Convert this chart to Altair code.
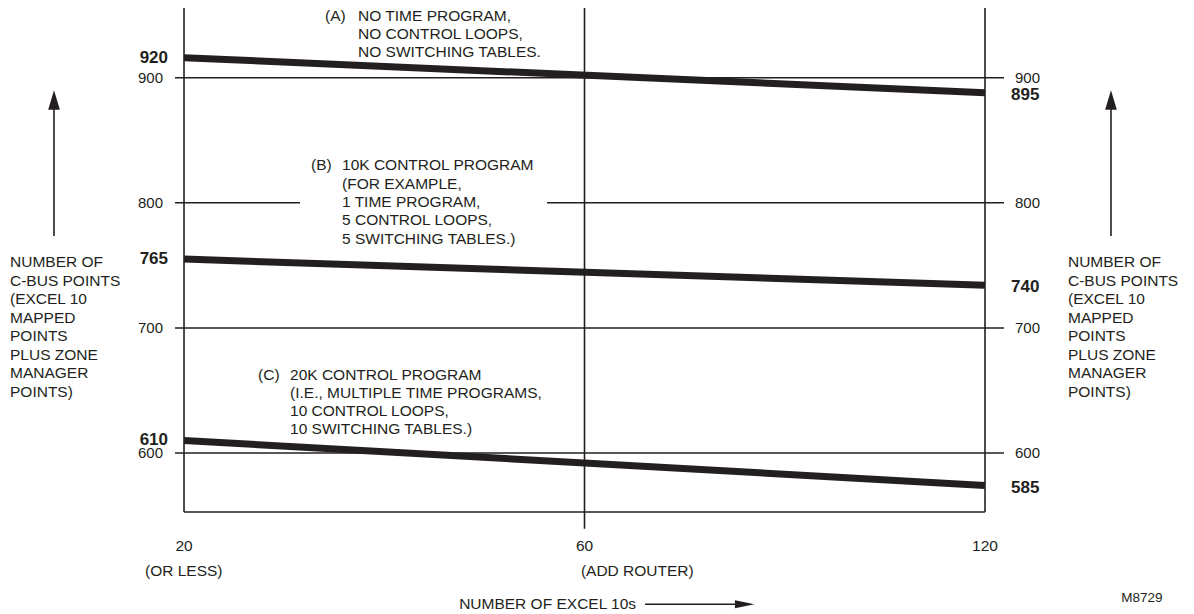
import altair as alt
import pandas as pd

INK = "#231f20"
FONT = "Liberation Sans"

# ---------------- data ----------------
excel_counts = [20, 60, 120]
excel_tick_labels = ["20", "60", "120"]
excel_sub_labels = ["(OR LESS)", "(ADD ROUTER)"]
series_ids = ["A", "B", "C"]
start_values = [916, 755, 610]   # line heights at 20 Excel 10s
end_values = [888, 734, 574]     # line heights at 120 Excel 10s
start_labels = ["920", "765", "610"]
end_labels = ["895", "740", "585"]
grid_values = [600, 700, 800, 900]
series_tags = ["(A)", "(B)", "(C)"]
series_notes = [
    "NO TIME PROGRAM,\nNO CONTROL LOOPS,\nNO SWITCHING TABLES.",
    "10K CONTROL PROGRAM\n(FOR EXAMPLE,\n1 TIME PROGRAM,\n5 CONTROL LOOPS,\n5 SWITCHING TABLES.)",
    "20K CONTROL PROGRAM\n(I.E., MULTIPLE TIME PROGRAMS,\n10 CONTROL LOOPS,\n10 SWITCHING TABLES.)",
]
y_title_lines = ["NUMBER OF", "C-BUS POINTS", "(EXCEL 10", "MAPPED", "POINTS",
                 "PLUS ZONE", "MANAGER", "POINTS)"]
x_title = "NUMBER OF EXCEL 10s"
figure_code = "M8729"

# ---------------- layout ----------------
W, H = 1178, 604
X_DOM = [-0.4395, 2.5019]   # slot units: 0 -> 20, 1 -> 60, 2 -> 120
Y_DOM = [472.9, 955.7]
xs = alt.Scale(domain=X_DOM, nice=False, zero=False)
ys = alt.Scale(domain=Y_DOM, nice=False, zero=False)
SLOT = "indexof([20, 60, 120], datum.n)"

FRAME_TOP = 956
FRAME_BOTTOM = 552.8
MID_BOTTOM = 539.5
GRID_X0, GRID_X1 = -0.0225, 2.0474
GAP_800 = (0.2896, 0.9064)
FS = 15.5


def X(f):
    return alt.X(f, scale=xs, axis=None)


def Y(f):
    return alt.Y(f, scale=ys, axis=None)


# gridlines
grid_rows = []
for v in grid_values:
    if v == 800:
        grid_rows.append({"x": GRID_X0, "x2": GAP_800[0], "v": v})
        grid_rows.append({"x": GAP_800[1], "x2": GRID_X1, "v": v})
    else:
        grid_rows.append({"x": GRID_X0, "x2": GRID_X1, "v": v})
grid = alt.Chart(pd.DataFrame(grid_rows)).mark_rule(color=INK, strokeWidth=1.5).encode(
    x=X("x:Q"), x2="x2:Q", y=Y("v:Q"))

# frame verticals
frame_df = pd.DataFrame({"n": excel_counts, "top": [FRAME_TOP] * 3,
                         "bot": [FRAME_BOTTOM, MID_BOTTOM, FRAME_BOTTOM]})
frame = alt.Chart(frame_df).transform_calculate(slot=SLOT).mark_rule(
    color=INK, strokeWidth=1.6).encode(x=X("slot:Q"), y=Y("top:Q"), y2="bot:Q")

base_df = pd.DataFrame({"x": [0.0], "x2": [2.0], "v": [FRAME_BOTTOM]})
base = alt.Chart(base_df).mark_rule(color=INK, strokeWidth=1.6).encode(
    x=X("x:Q"), x2="x2:Q", y=Y("v:Q"))

# data lines
lines_df = pd.DataFrame({"series": series_ids * 2,
                         "n": [excel_counts[0]] * 3 + [excel_counts[-1]] * 3,
                         "v": start_values + end_values})
lines = alt.Chart(lines_df).transform_calculate(slot=SLOT).mark_line(
    color=INK, strokeWidth=7, strokeCap="butt").encode(
    x=X("slot:Q"), y=Y("v:Q"), detail="series:N")

# tick labels
txt = dict(font=FONT, color=INK)
gl_left = alt.Chart(pd.DataFrame({"v": grid_values, "t": [str(g) for g in grid_values],
                                  "x": [-0.0524] * 4})).mark_text(
    align="right", baseline="middle", fontSize=15, **txt).encode(x=X("x:Q"), y=Y("v:Q"), text="t:N")
gl_right = alt.Chart(pd.DataFrame({"v": grid_values, "t": [str(g) for g in grid_values],
                                   "x": [2.0749] * 4})).mark_text(
    align="left", baseline="middle", fontSize=15, **txt).encode(x=X("x:Q"), y=Y("v:Q"), text="t:N")

bl_left = alt.Chart(pd.DataFrame({"v": start_values, "t": start_labels,
                                  "x": [-0.0399] * 3})).mark_text(
    align="right", baseline="middle", fontSize=17, fontWeight="bold", **txt).encode(
    x=X("x:Q"), y=Y("v:Q"), text="t:N")
bl_right = alt.Chart(pd.DataFrame({"v": end_values, "t": end_labels,
                                   "x": [2.065] * 3})).mark_text(
    align="left", baseline="middle", fontSize=17, fontWeight="bold", dy=2, **txt).encode(
    x=X("x:Q"), y=Y("v:Q"), text="t:N")

# x labels
xl = alt.Chart(pd.DataFrame({"n": excel_counts, "t": excel_tick_labels,
                             "v": [525.7] * 3})).transform_calculate(slot=SLOT).mark_text(
    align="center", baseline="middle", fontSize=FS, **txt).encode(
    x=X("slot:Q"), y=Y("v:Q"), text="t:N")
xsub = alt.Chart(pd.DataFrame({"t": excel_sub_labels, "x": [-0.0974, 0.991],
                               "v": [505.7] * 2})).mark_text(
    align="left", baseline="middle", fontSize=FS, **txt).encode(
    x=X("x:Q"), y=Y("v:Q"), text="t:N")

# series annotations
ann_y = [955.2, 835.4, 668.3]
tags = alt.Chart(pd.DataFrame({"t": series_tags, "x": [0.352, 0.317, 0.185],
                               "v": ann_y})).mark_text(
    align="left", baseline="top", fontSize=FS, **txt).encode(
    x=X("x:Q"), y=Y("v:Q"), text="t:N")
notes = alt.Chart(pd.DataFrame({"t": series_notes, "x": [0.4345, 0.3945, 0.2647],
                                "v": ann_y})).mark_text(
    align="left", baseline="top", fontSize=FS, lineBreak="\n", lineHeight=18.3, **txt).encode(
    x=X("x:Q"), y=Y("v:Q"), text="t:N")

# side titles
side = alt.Chart(pd.DataFrame({"t": ["\n".join(y_title_lines)] * 2,
                               "x": [-0.4395 + 0.0050, 2.2072], "v": [757.9] * 2})).mark_text(
    align="left", baseline="top", fontSize=FS, lineBreak="\n", lineHeight=18.5, **txt).encode(
    x=X("x:Q"), y=Y("v:Q"), text="t:N")

# up arrows
up_df = pd.DataFrame({"x": [-0.3246, 2.3146], "v": [773.5] * 2, "v2": [882.2] * 2})
up_shaft = alt.Chart(up_df).mark_rule(color=INK, strokeWidth=1.6).encode(
    x=X("x:Q"), y=Y("v:Q"), y2="v2:Q")
up_head = alt.Chart(up_df).mark_point(
    shape="M0,-1L0.6,1L-0.6,1Z", filled=True, size=380, color=INK, opacity=1).encode(
    x=X("x:Q"), y=Y("v2:Q"))

# x title with arrow
xt = alt.Chart(pd.DataFrame({"t": [x_title], "x": [1.1286], "v": [479.1]})).mark_text(
    align="right", baseline="middle", fontSize=FS, **txt).encode(
    x=X("x:Q"), y=Y("v:Q"), text="t:N")
ra_df = pd.DataFrame({"x": [1.151], "x2": [1.4], "h": [1.4], "v": [479.1]})
ra_shaft = alt.Chart(ra_df).mark_rule(color=INK, strokeWidth=1.6).encode(
    x=X("x:Q"), x2="x2:Q", y=Y("v:Q"))
ra_head = alt.Chart(ra_df).mark_point(
    shape="M1,0L-1,0.4L-1,-0.4Z", filled=True, size=380, color=INK, opacity=1).encode(
    x=X("h:Q"), y=Y("v:Q"))

code = alt.Chart(pd.DataFrame({"t": [figure_code], "x": [2.392], "v": [484.1]})).mark_text(
    align="center", baseline="middle", fontSize=13.5, **txt).encode(
    x=X("x:Q"), y=Y("v:Q"), text="t:N")

chart = alt.layer(
    grid, frame, base, lines, gl_left, gl_right, bl_left, bl_right, xl, xsub,
    tags, notes, side, up_shaft, up_head, xt, ra_shaft, ra_head, code
).properties(
    width=W, height=H,
    autosize=alt.AutoSizeParams(type="none"),
    padding=0,
    background="white",
).configure_view(stroke=None)

chart.save("out.html", embed_options={"renderer": "svg", "actions": False})
